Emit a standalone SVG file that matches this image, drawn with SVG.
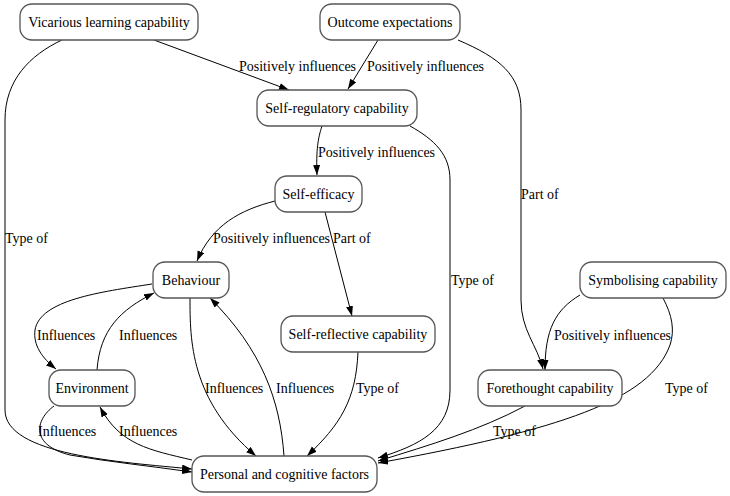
<svg xmlns="http://www.w3.org/2000/svg" width="730" height="496" viewBox="0 0 730 496">
<style>
.n rect{fill:#fff;stroke:#555;stroke-width:1.3}
text{font-family:"Liberation Serif","Times New Roman",serif;font-size:14px;fill:#000}
.n text{text-anchor:middle}
.e path{fill:none;stroke:#000;stroke-width:1}
</style>
<defs>
<marker id="a" markerUnits="userSpaceOnUse" markerWidth="10" markerHeight="8" refX="10" refY="3.5" orient="auto">
<path d="M0,0 L10,3.5 L0,7 z" fill="#000"/>
</marker>
</defs>
<rect width="730" height="496" fill="#fff"/>
<g class="e" id="edges">
<path d="M154,40 L289,90" marker-end="url(#a)"/>
<text x="239" y="71">Positively influences</text>
<path d="M62,40 C30,55 5,80 5,120 L5,410 C5,455 120,462 192,469" marker-end="url(#a)"/>
<text x="5" y="243">Type of</text>
<path d="M378,40 L348,89" marker-end="url(#a)"/>
<text x="367" y="71">Positively influences</text>
<path d="M458,40 C500,58 521,75 521,110 L521,300 C521,330 537,345 543,369" marker-end="url(#a)"/>
<text x="521" y="199">Part of</text>
<path d="M322,126 C318,138 316,150 317,175" marker-end="url(#a)"/>
<text x="318" y="157">Positively influences</text>
<path d="M410,126 C435,140 450,155 450,180 L450,390 C450,430 420,445 378,458" marker-end="url(#a)"/>
<text x="451" y="285">Type of</text>
<path d="M275,201 C240,210 212,225 197,261" marker-end="url(#a)"/>
<text x="213" y="243">Positively influences</text>
<path d="M325,212 L352,316" marker-end="url(#a)"/>
<text x="333" y="243">Part of</text>
<path d="M152,284 C100,292 40,300 35,330 C33,345 42,358 56,369" marker-end="url(#a)"/>
<text x="37" y="340">Influences</text>
<path d="M97,370 C100,330 120,310 154,293" marker-end="url(#a)"/>
<text x="119" y="340">Influences</text>
<path d="M190,298 C190,340 190,400 256,456" marker-end="url(#a)"/>
<text x="205" y="393">Influences</text>
<path d="M284,456 C280,400 262,350 210,298" marker-end="url(#a)"/>
<text x="276" y="393">Influences</text>
<path d="M358,352 C356,400 340,425 307,456" marker-end="url(#a)"/>
<text x="356" y="393">Type of</text>
<path d="M54,406 C35,420 30,445 70,455 C110,462 150,466 192,472" marker-end="url(#a)"/>
<text x="38" y="436">Influences</text>
<path d="M192,460 C150,450 120,445 100,407" marker-end="url(#a)"/>
<text x="119" y="436">Influences</text>
<path d="M580,295 C555,310 545,330 545,370" marker-end="url(#a)"/>
<text x="554" y="340">Positively influences</text>
<path d="M663,298 C672,315 675,330 670,345 C650,400 560,430 378,463" marker-end="url(#a)"/>
<text x="665" y="393">Type of</text>
<path d="M525,406 C480,430 430,445 378,461" marker-end="url(#a)"/>
<text x="493" y="436">Type of</text>
</g>
<g class="n" id="vicarious"><rect x="20" y="4" width="178" height="36" rx="12"/><text x="109" y="27">Vicarious learning capability</text></g>
<g class="n" id="outcome"><rect x="320" y="4" width="140" height="36" rx="12"/><text x="390" y="27">Outcome expectations</text></g>
<g class="n" id="selfreg"><rect x="257" y="90" width="160" height="36" rx="12"/><text x="337" y="113">Self-regulatory capability</text></g>
<g class="n" id="selfeff"><rect x="275" y="176" width="87" height="36" rx="12"/><text x="318.5" y="199">Self-efficacy</text></g>
<g class="n" id="behaviour"><rect x="153" y="262" width="76" height="36" rx="12"/><text x="191" y="285">Behaviour</text></g>
<g class="n" id="selfrefl"><rect x="281" y="316" width="154" height="36" rx="12"/><text x="358" y="339">Self-reflective capability</text></g>
<g class="n" id="environment"><rect x="49" y="370" width="86" height="36" rx="12"/><text x="92" y="393">Environment</text></g>
<g class="n" id="personal"><rect x="192" y="456" width="185" height="36" rx="12"/><text x="284.5" y="479">Personal and cognitive factors</text></g>
<g class="n" id="forethought"><rect x="478" y="370" width="144" height="36" rx="12"/><text x="550" y="393">Forethought capability</text></g>
<g class="n" id="symbolising"><rect x="580" y="262" width="146" height="36" rx="12"/><text x="653" y="285">Symbolising capability</text></g>
</svg>
